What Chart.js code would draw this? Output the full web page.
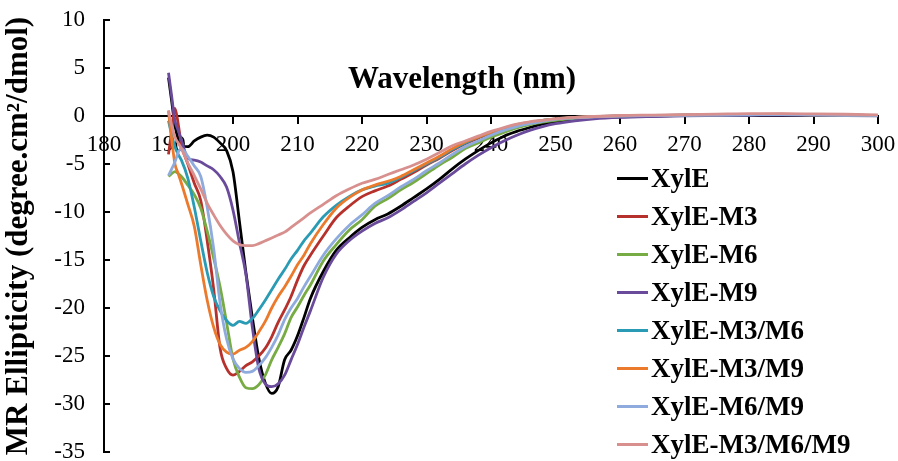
<!DOCTYPE html>
<html>
<head>
<meta charset="utf-8">
<script src="https://cdn.jsdelivr.net/npm/chart.js@4.4.1/dist/chart.umd.min.js"></script>
<style>
  body { margin: 0; background: #fff; }
  #wrap { position: relative; width: 898px; height: 461px; font-family: 'Liberation Serif', 'Times New Roman', serif; }
  #xTitle { position: absolute; left: 462px; top: 62px; transform: translateX(-50%); font-size: 31px; font-weight: bold; line-height: 32px; white-space: nowrap; }
  #legend { position: absolute; left: 617px; top: 159px; }
  .item { display: flex; align-items: center; height: 38.1px; font-size: 27px; font-weight: bold; white-space: nowrap; }
  .swatch { display: inline-block; width: 31px; height: 3px; margin-right: 3px; }
</style>
</head>
<body>
<div id="wrap">
  <canvas id="cd"></canvas>
  <div id="xTitle">Wavelength (nm)</div>
  <div id="legend"></div>
</div>
<script>
const wavelengths = [190, 190.5, 191, 191.5, 192, 193, 194, 195, 196, 197, 198, 199, 200, 201, 202, 203, 204, 205, 206, 207, 208, 209, 210, 211, 212, 214, 216, 218, 220, 222, 224, 226, 228, 230, 232, 234, 236, 238, 240, 242, 244, 246, 248, 250, 253, 256, 260, 265, 270, 275, 280, 285, 290, 295, 300];

const seriesNames = ['XylE', 'XylE-M3', 'XylE-M6', 'XylE-M9', 'XylE-M3/M6', 'XylE-M3/M9', 'XylE-M6/M9', 'XylE-M3/M6/M9'];
const seriesColors = ['#000000', '#B7312C', '#77AB43', '#6A4B9B', '#2A9BB4', '#EB7A2C', '#8FAADC', '#D8908F'];

const xylE = [4.0, 1.5, -1.0, -2.4, -3.1, -3.2, -2.6, -2.2, -2.0, -2.2, -2.8, -3.6, -5.8, -11.0, -16.3, -21.0, -25.2, -27.8, -28.9, -28.2, -25.4, -24.4, -22.9, -21.0, -19.0, -16.2, -14.0, -12.7, -11.6, -10.8, -10.2, -9.4, -8.5, -7.6, -6.6, -5.5, -4.5, -3.6, -2.8, -2.1, -1.6, -1.2, -0.85, -0.6, -0.35, -0.2, -0.08, 0, 0.05, 0.1, 0.12, 0.15, 0.1, 0.08, 0.05];
const xylE_M3 = [-4.0, -1.5, 0.8, -0.8, -3.0, -5.0, -7.0, -8.8, -13.0, -18.0, -24.2, -26.3, -27.0, -26.6, -26.0, -25.6, -25.0, -24.2, -23.0, -21.5, -20.2, -18.8, -17.1, -15.6, -14.5, -12.5, -10.6, -9.4, -8.4, -7.8, -7.3, -6.6, -5.9, -5.1, -4.4, -3.6, -2.9, -2.3, -1.8, -1.35, -1.0, -0.7, -0.5, -0.35, -0.2, -0.1, 0, 0.05, 0.1, 0.12, 0.15, 0.18, 0.12, 0.1, 0.05];
const xylE_M6 = [-6.3, -6.0, -5.8, -6.0, -6.3, -7.2, -8.2, -9.6, -12.0, -14.8, -17.8, -21.5, -25.3, -27.2, -28.3, -28.4, -28.0, -27.0, -25.4, -24.1, -22.7, -21.0, -19.9, -18.7, -17.6, -15.1, -13.4, -11.9, -10.8, -9.4, -8.6, -7.7, -6.9, -6.0, -5.1, -4.3, -3.4, -2.8, -2.2, -1.7, -1.25, -0.9, -0.65, -0.45, -0.25, -0.12, -0.02, 0.03, 0.08, 0.1, 0.12, 0.15, 0.12, 0.08, 0.05];
const xylE_M9 = [4.5, 2.0, -0.5, -1.5, -2.5, -4.4, -4.6, -4.8, -5.2, -5.6, -6.3, -7.4, -9.8, -13.2, -16.5, -22.0, -26.3, -27.9, -28.2, -27.9, -27.0, -25.4, -23.8, -22.0, -20.3, -16.8, -14.4, -13.0, -12.0, -11.2, -10.6, -9.8, -8.9, -8.0, -7.0, -6.0, -5.0, -4.1, -3.3, -2.6, -2.0, -1.5, -1.1, -0.8, -0.5, -0.3, -0.15, -0.05, 0.02, 0.05, 0.08, 0.1, 0.08, 0.05, 0.02];
const xylE_M3M6 = [-0.5, -2.0, -3.2, -4.0, -4.6, -6.5, -9.5, -13.0, -16.3, -18.8, -20.3, -21.3, -21.8, -21.4, -21.6, -21.1, -20.2, -19.2, -18.1, -17.0, -16.0, -14.9, -14.0, -13.0, -12.2, -10.5, -9.3, -8.4, -7.7, -7.3, -7.0, -6.4, -5.7, -5.0, -4.3, -3.5, -2.8, -2.2, -1.7, -1.3, -0.95, -0.7, -0.45, -0.3, -0.15, -0.05, 0.02, 0.05, 0.1, 0.12, 0.15, 0.15, 0.12, 0.1, 0.05];
const xylE_M3M9 = [0.5, -2.5, -5.0, -6.0, -7.0, -9.2, -11.5, -15.5, -19.2, -22.0, -23.8, -24.6, -24.8, -24.4, -24.1, -23.5, -22.5, -21.4, -20.0, -18.8, -17.8, -16.7, -15.5, -14.5, -13.3, -11.3, -9.6, -8.5, -7.7, -7.2, -6.8, -6.3, -5.6, -4.9, -4.2, -3.4, -2.7, -2.2, -1.7, -1.3, -0.9, -0.65, -0.45, -0.3, -0.15, -0.05, 0.02, 0.05, 0.1, 0.12, 0.15, 0.15, 0.12, 0.1, 0.05];
const xylE_M6M9 = [-6.2, -5.5, -4.8, -3.8, -3.4, -4.2, -5.2, -6.3, -9.5, -13.8, -19.5, -23.2, -25.3, -26.3, -26.7, -26.6, -26.0, -25.2, -24.1, -22.8, -21.2, -20.0, -19.0, -17.8, -16.7, -14.5, -12.8, -11.4, -10.3, -9.1, -8.3, -7.4, -6.6, -5.7, -4.9, -4.0, -3.2, -2.6, -2.0, -1.5, -1.1, -0.8, -0.55, -0.35, -0.2, -0.08, 0, 0.05, 0.08, 0.1, 0.12, 0.15, 0.12, 0.08, 0.05];
const xylE_M3M6M9 = [0.6, -1.0, -2.2, -2.8, -3.4, -4.9, -6.2, -7.6, -9.1, -10.3, -11.4, -12.3, -13.0, -13.4, -13.5, -13.5, -13.3, -13.0, -12.7, -12.4, -12.1, -11.6, -11.1, -10.6, -10.1, -9.2, -8.3, -7.6, -7.0, -6.6, -6.1, -5.6, -5.1, -4.5, -3.8, -3.1, -2.6, -2.1, -1.6, -1.2, -0.85, -0.6, -0.45, -0.3, -0.15, -0.05, 0.05, 0.1, 0.15, 0.2, 0.25, 0.25, 0.22, 0.18, 0.12];

const allSeries = [xylE, xylE_M3, xylE_M6, xylE_M9, xylE_M3M6, xylE_M3M9, xylE_M6M9, xylE_M3M6M9];

const serif = "'Liberation Serif', 'Times New Roman', serif";

// legend drawn as html so it can sit over the plot like the original
const legendEl = document.getElementById('legend');
seriesNames.forEach((name, i) => {
  const row = document.createElement('div');
  row.className = 'item';
  row.innerHTML = `<span class="swatch" style="background:${seriesColors[i]}"></span>${name}`;
  legendEl.appendChild(row);
});

// small inward tick marks on the y axis
const yTicksInside = {
  id: 'yTicksInside',
  afterDraw(chart) {
    const { ctx, chartArea, scales } = chart;
    ctx.save();
    ctx.strokeStyle = '#000';
    ctx.lineWidth = 2;
    scales.y.ticks.forEach(t => {
      const y = scales.y.getPixelForValue(t.value);
      ctx.beginPath();
      ctx.moveTo(chartArea.left, y);
      ctx.lineTo(chartArea.left + 6, y);
      ctx.stroke();
    });
    ctx.restore();
  }
};

new Chart(document.getElementById('cd'), {
  type: 'line',
  data: {
    datasets: allSeries.map((vals, i) => ({
      label: seriesNames[i],
      data: wavelengths.map((w, j) => ({ x: w, y: vals[j] })),
      borderColor: seriesColors[i],
      borderWidth: 2.8,
      pointRadius: 0,
      cubicInterpolationMode: 'monotone',
      order: -i,
    }))
  },
  options: {
    responsive: true,
    maintainAspectRatio: false,
    animation: false,
    layout: { padding: { left: 0, right: 20, top: 20, bottom: 9 } },
    plugins: { legend: { display: false }, tooltip: { enabled: false } },
    scales: {
      x: {
        type: 'linear',
        position: { y: 0 },
        min: 180, max: 300,
        ticks: { stepSize: 10, color: '#000', padding: 8, font: { family: serif, size: 23 } },
        grid: { display: true, drawOnChartArea: false, drawTicks: true, tickLength: 7, color: '#000', lineWidth: 2 },
        border: { display: true, color: '#000', width: 2 },
        afterFit: s => { s.paddingLeft = 0; s.paddingRight = 0; },
      },
      y: {
        min: -35, max: 10,
        ticks: { stepSize: 5, color: '#000', padding: 11, font: { family: serif, size: 23 } },
        grid: { display: false },
        border: { display: true, color: '#000', width: 2 },
        title: {
          display: true,
          text: 'MR Ellipticity (degree.cm²/dmol)',
          color: '#000',
          font: { family: serif, size: 31, weight: 'bold' },
          padding: { top: 0, bottom: 0 },
        },
        afterFit: s => { s.width = 104; s.paddingTop = 0; s.paddingBottom = 0; },
      }
    }
  },
  plugins: [yTicksInside]
});
</script>
</body>
</html>
